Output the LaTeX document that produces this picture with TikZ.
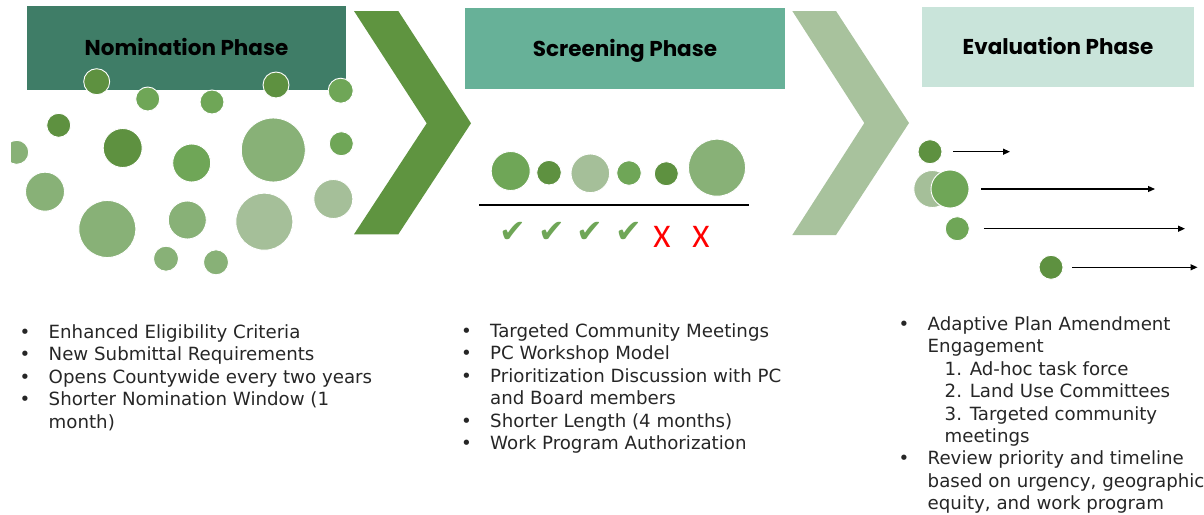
\documentclass[tikz,border=0pt]{standalone}
\usepackage{fontspec}
\setmainfont{DejaVu Sans}
\newfontfamily\titlefont{Poppins}
\newfontfamily\symfont{DejaVu Sans}
\newfontfamily\crossfont{Carlito}
\usetikzlibrary{arrows.meta,positioning}

\definecolor{nomteal}{HTML}{3F7D67}
\definecolor{scrteal}{HTML}{67B198}
\definecolor{evalteal}{HTML}{C9E4DA}
\definecolor{chevdark}{HTML}{5F9440}
\definecolor{chevpale}{HTML}{A8C29D}
\definecolor{gdark}{HTML}{5E9140}
\definecolor{gmid}{HTML}{6FA657}
\definecolor{glight}{HTML}{88B177}
\definecolor{gpale}{HTML}{A5BF99}
\definecolor{textgrey}{HTML}{262626}

\tikzset{
  phasebox/.style={rectangle, inner sep=0pt, text=black,
    font=\titlefont\bfseries\fontsize{21.5}{26}\selectfont,
    text height=15.5pt, text depth=0pt},
  dot/.style={circle, inner sep=0pt, draw=white, line width=0.9pt},
  listtext/.style={inner sep=0pt, text=textgrey, anchor=base west,
    font=\fontsize{18.2}{22.4}\selectfont},
  tick/.style={text=gmid, font=\symfont\fontsize{32}{32}\selectfont, inner sep=0pt},
  cross/.style={text=red, font=\crossfont\fontsize{33}{33}\selectfont, inner sep=0pt}
}
\newcommand{\blt}{\makebox[29pt][l]{\textbullet}}

\begin{document}
\begin{tikzpicture}[x=1pt, y=-1pt]
  \useasboundingbox (0,0) rectangle (1204,514);
  \clip (11,0) rectangle (1204,514);

  % phase headers
  \node[phasebox, fill=nomteal, minimum width=319pt, minimum height=84pt]
    (nom) at (186.5,48) {Nomination Phase};
  \node[phasebox, fill=scrteal, minimum width=320pt, minimum height=81pt]
    (scr) at (625,48.5) {Screening Phase};
  \node[phasebox, fill=evalteal, minimum width=272pt, minimum height=80pt]
    (eva) at (1058,47) {Evaluation Phase};

  % chevrons
  \fill[chevdark] (354,11) -- (398.3,11) -- (471,123.3) -- (398.3,234.3)
    -- (354,234.3) -- (426.7,123.3) -- cycle;
  \fill[chevpale] (792.3,11) -- (836,11) -- (909,123) -- (836,235)
    -- (792.3,235) -- (864.3,123) -- cycle;

  % nomination pool
  \foreach \x/\y/\r/\c [count=\i] in {
      96.7/81.7/13/gdark, 147.7/99/12/gmid, 212/102/12/gmid,
      276/85/13/gdark, 340.7/90.7/12.5/gmid, 58.7/125.3/12/gdark,
      16.7/152.3/12/glight, 122.7/148/19.5/gdark, 191.7/163/19/gmid,
      273.3/150/32/glight, 341.3/143.7/12/gmid, 45/191.7/19.5/glight,
      107.3/229/28.5/glight, 187.3/220/19/glight, 264.3/221.7/28.5/gpale,
      333.3/199/19.5/gpale, 166/258.7/12.5/glight, 216/262.3/12.5/glight}
    \node[dot, fill=\c, minimum size=2*\r] (n\i) at (\x,\y) {};

  % screening
  \foreach \x/\y/\r/\c [count=\i] in {
      510.7/171/19.5/gmid, 549/172.7/12.3/gdark, 590.3/173.3/19.3/gpale,
      629/173/12.3/gmid, 666.3/173.7/12/gdark, 717/167.7/28.5/glight}
    \node[dot, fill=\c, minimum size=2*\r] (s\i) at (\x,\y) {};
  \coordinate (ruleL) at (479,205);
  \coordinate (ruleR) at (749,205);
  \draw[line width=1.2pt] (ruleL) -- (ruleR);
  \foreach \x [count=\i] in {513,551.5,590,629}
    \node[tick] (ok\i) at (\x,232) {✔};
  \node[cross] (no1) at (662,237) {X};
  \node[cross] (no2) at (701,237) {X};

  % evaluation
  \node[dot, fill=gpale, minimum size=37] (e0) at (932.3,189) {};
  \foreach \x/\y/\r/\c [count=\i] in {
      930/151.7/12/gdark, 950/189/19/gmid, 957.3/228.7/12/gmid,
      1051/267.3/12/gdark}
    \node[dot, fill=\c, minimum size=2*\r] (e\i) at (\x,\y) {};
  \coordinate (t1) at (1010,151.7);
  \coordinate (t2) at (1155,189);
  \coordinate (t3) at (1185,228.7);
  \coordinate (t4) at (1197.5,267.3);
  \foreach \i/\g in {1/11, 2/12, 3/14, 4/9}
    \draw[line width=1.2pt, -{Triangle[length=7pt,width=6pt]}, shorten <=\g pt]
      (e\i) -- (t\i);

  % bullet lists
  \node[listtext] (nomlist) at (19.5,338.5) {\begin{tabular}[t]{@{}l@{}}
    \blt Enhanced Eligibility Criteria\\
    \blt New Submittal Requirements\\
    \blt Opens Countywide every two years\\
    \blt Shorter Nomination Window (1\\
    \hspace{29pt}month)
  \end{tabular}};
  \node[listtext] (scrlist) at (461,337.5) {\begin{tabular}[t]{@{}l@{}}
    \blt Targeted Community Meetings\\
    \blt PC Workshop Model\\
    \blt Prioritization Discussion with PC\\
    \hspace{29pt}and Board members\\
    \blt Shorter Length (4 months)\\
    \blt Work Program Authorization
  \end{tabular}};
  \node[listtext] (evalist) at (898.5,330.5) {\begin{tabular}[t]{@{}l@{}}
    \blt Adaptive Plan Amendment\\
    \hspace{29pt}Engagement\\
    \hspace{46pt}1. Ad-hoc task force\\
    \hspace{46pt}2. Land Use Committees\\
    \hspace{46pt}3. Targeted community\\
    \hspace{46pt}meetings\\
    \blt Review priority and timeline\\
    \hspace{29pt}based on urgency, geographic\\
    \hspace{29pt}equity, and work program
  \end{tabular}};
\end{tikzpicture}
\end{document}
